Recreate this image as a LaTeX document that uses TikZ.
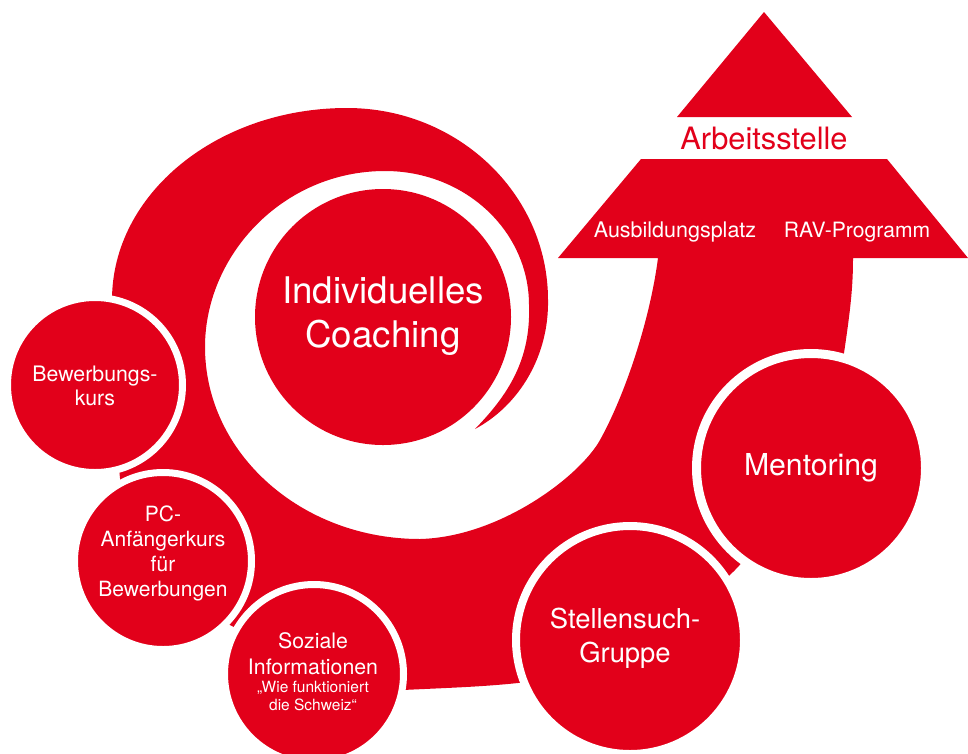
\documentclass[tikz,border=0pt]{standalone}
\usepackage{fontspec}
\setmainfont{TeX Gyre Heros}
\definecolor{swred}{RGB}{226,0,26}
\begin{document}
\begin{tikzpicture}[x=1pt,y=-1pt,
  bubble/.style={circle,fill=swred,draw=white,inner sep=0pt},
  wtext/.style={text=white,align=center,inner sep=0pt}]
\useasboundingbox (0,0) rectangle (968,753);
% spiral and arrow
\fill[swred] (475,429)
  .. controls (520,405) and (549,355) .. (548,300)
  .. controls (548,194) and (458,108) .. (347,108)
  .. controls (217,108) and (112,194) .. (112,300)
  .. controls (112,360) and (114,420) .. (120,478)
  .. controls (125,526) and (180,600) .. (230,625)
  .. controls (280,650) and (353,693) .. (403,690)
  .. controls (443,688) and (480,687) .. (518,683)
  .. controls (590,676) and (690,615) .. (735,570)
  .. controls (775,530) and (837,400) .. (844,353)
  .. controls (851,306) and (853,285) .. (853,258)
  -- (968,258) -- (887,159) -- (641,159) -- (558,258) -- (658,258)
  .. controls (650,320) and (625,395) .. (600,440)
  .. controls (580,476) and (500,537) .. (420,539)
  .. controls (301,539) and (205,453) .. (205,347)
  .. controls (205,255) and (283,171) .. (385,171)
  .. controls (465,171) and (529,231) .. (529,305)
  .. controls (531,360) and (508,395) .. (475,429) -- cycle;
\fill[swred] (764,12) -- (852,117) -- (677,117) -- cycle;
% circles
\node[bubble,draw=none,minimum size=256pt] (coach) at (383,317) {};
\node[bubble,line width=7pt,minimum size=175pt] (bew) at (95,385) {};
\node[bubble,line width=7pt,minimum size=177pt] (pc) at (163,561) {};
\node[bubble,line width=7pt,minimum size=179pt] (soz) at (314,674) {};
\node[bubble,line width=8pt,minimum size=228pt] (stell) at (630,640) {};
\node[bubble,line width=9pt,minimum size=229pt] (ment) at (811,468) {};
% texts
\node[wtext,font=\fontsize{36.7}{44}\selectfont] (tcoach) at (383,316) {Individuelles\\Coaching};
\node[wtext,font=\fontsize{21.3}{24}\selectfont] (tbew) at (95,386) {Bewerbungs-\\kurs};
\node[wtext,font=\fontsize{21}{25}\selectfont] (tpc) at (163,553) {PC-\\Anfängerkurs\\für\\Bewerbungen};
\node[wtext,font=\fontsize{21.3}{26}\selectfont] (tsoz) at (313,654) {Soziale\\Informationen};
\node[wtext,font=\fontsize{15.5}{18}\selectfont] (tsoz2) at (313,696) {„Wie funktioniert\\die Schweiz“};
\node[wtext,font=\fontsize{27.4}{34}\selectfont] (tstell) at (625,638) {Stellensuch-\\Gruppe};
\node[wtext,font=\fontsize{30.2}{36}\selectfont] (tment) at (811,468) {Mentoring};
\node[wtext,font=\fontsize{21.5}{25}\selectfont] (tausb) at (675,232) {Ausbildungsplatz};
\node[wtext,font=\fontsize{21.1}{25}\selectfont] (trav) at (857,232) {RAV-Programm};
\node[text=swred,inner sep=0pt,font=\fontsize{30.8}{36}\selectfont] (tarb) at (764,138) {Arbeitsstelle};
\end{tikzpicture}
\end{document}
